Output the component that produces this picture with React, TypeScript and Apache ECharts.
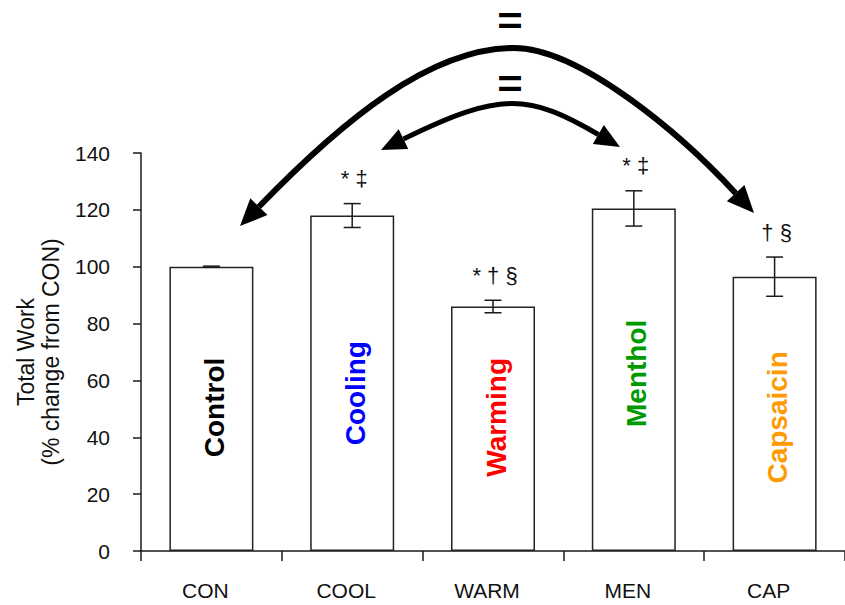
import React, { useEffect, useRef } from "react";
import * as echarts from "echarts";

// Conditions and their measured total work (% of control), mean ± SEM
const categories = ["CON", "COOL", "WARM", "MEN", "CAP"];
const conditionNames = ["Control", "Cooling", "Warming", "Menthol", "Capsaicin"];
const meanWork = [100, 118, 86, 120.5, 96.5];
const semWork = [0.2, 4.2, 2.2, 6.2, 6.9];
const significance = ["", "* \u2021", "* \u2020 \u00a7", "* \u2021", "\u2020 \u00a7"];
const yTicks = { min: 0, max: 140, interval: 20 };

// Styling / layout for the in-bar condition names
const nameColors = ["#000000", "#0000ff", "#ff0000", "#009a00", "#ff9a00"];
const nameCenterAt = [50.5, 55.5, 47, 62.5, 47]; // in axis units

const FONT = '"Liberation Sans", Arial, Helvetica, sans-serif';
const INK = "#1a1a1a";

type Pt = [number, number];

function arrowHead(tip: Pt, dir: Pt, len: number, halfW: number) {
  const n = Math.hypot(dir[0], dir[1]);
  const d: Pt = [dir[0] / n, dir[1] / n];
  const base: Pt = [tip[0] - d[0] * len, tip[1] - d[1] * len];
  const p: Pt = [-d[1], d[0]];
  return {
    base,
    shape: {
      type: "polygon",
      shape: {
        points: [
          tip,
          [base[0] + p[0] * halfW, base[1] + p[1] * halfW],
          [base[0] - p[0] * halfW, base[1] - p[1] * halfW],
        ],
      },
      style: { fill: "#000" },
    },
  };
}

function equalsSign(y: number) {
  return {
    type: "text",
    x: 510,
    y,
    scaleX: 1.15,
    style: {
      text: "=",
      font: `bold 38px ${FONT}`,
      fill: "#000",
      align: "center",
      verticalAlign: "middle",
    },
  };
}

function buildArrows() {
  const els: any[] = [];
  // outer arc: Control <-> Capsaicin
  const bl = arrowHead([240, 226], [-0.7, 0.714], 27, 12);
  const br = arrowHead([754, 213], [0.68, 0.733], 27, 12);
  els.push({
    type: "bezierCurve",
    shape: { x1: bl.base[0], y1: bl.base[1], cpx1: 342, cpy1: 121, cpx2: 430, cpy2: 48, x2: 514, y2: 48 },
    style: { stroke: "#000", lineWidth: 6, fill: null },
  });
  els.push({
    type: "bezierCurve",
    shape: { x1: 514, y1: 48, cpx1: 580, cpy1: 48, cpx2: 682, cpy2: 135, x2: br.base[0], y2: br.base[1] },
    style: { stroke: "#000", lineWidth: 6, fill: null },
  });
  els.push(bl.shape, br.shape);

  // inner arc: Cooling <-> Menthol
  const sl = arrowHead([381, 150], [-0.9, 0.436], 25, 11);
  const sr = arrowHead([620, 147], [0.866, 0.5], 25, 11);
  els.push({
    type: "bezierCurve",
    shape: { x1: sl.base[0], y1: sl.base[1], cpx1: 501, cpy1: 91, cpx2: 529, cpy2: 94, x2: sr.base[0], y2: sr.base[1] },
    style: { stroke: "#000", lineWidth: 5, fill: null },
  });
  els.push(sl.shape, sr.shape);

  els.push(equalsSign(21), equalsSign(84));
  return els;
}

export default function App() {
  const ref = useRef<HTMLDivElement>(null);

  useEffect(() => {
    if (!ref.current) return;
    const chart = echarts.init(ref.current, undefined, { renderer: "svg" });

    const option: any = {
      animation: false,
      backgroundColor: "#ffffff",
      grid: { left: 141, right: -4, top: 153, bottom: 54 },
      xAxis: {
        type: "category",
        data: categories,
        axisLine: { lineStyle: { color: INK, width: 1.5 } },
        axisTick: { show: true, length: 10, lineStyle: { color: INK, width: 1.5 } },
        axisLabel: { fontFamily: FONT, fontSize: 21, color: "#111", margin: 29, padding: [0, 12, 0, 0] },
      },
      yAxis: {
        type: "value",
        min: yTicks.min,
        max: yTicks.max,
        interval: yTicks.interval,
        name: "Total Work\n(% change from CON)",
        nameLocation: "middle",
        nameGap: 78,
        nameTextStyle: { fontFamily: FONT, fontSize: 23, lineHeight: 25, color: "#111" },
        axisLine: { show: true, lineStyle: { color: INK, width: 1.5 } },
        axisTick: { show: true, length: 8, lineStyle: { color: INK, width: 1.5 } },
        splitLine: { show: false },
        axisLabel: { fontFamily: FONT, fontSize: 21, color: "#111", margin: 31 },
      },
      series: [
        {
          type: "bar",
          data: meanWork,
          barWidth: 84,
          itemStyle: { color: "#ffffff", borderColor: "#222", borderWidth: 1.5 },
          z: 2,
        },
        {
          type: "custom",
          data: categories.map((_, i) => [i, meanWork[i], semWork[i]]),
          encode: { x: 0, y: 1 },
          z: 3,
          renderItem: (params: any, api: any) => {
            const i = params.dataIndex;
            const m = meanWork[i];
            const s = semWork[i];
            const x = api.coord([i, m])[0];
            const top = api.coord([i, m + s])[1];
            const bot = api.coord([i, m - s])[1];
            const nameY = api.coord([i, nameCenterAt[i]])[1];
            const half = 8.5;
            const ls = { stroke: INK, lineWidth: 1.5 };
            return {
              type: "group",
              children: [
                { type: "line", shape: { x1: x, y1: top, x2: x, y2: bot }, style: ls },
                { type: "line", shape: { x1: x - half, y1: top, x2: x + half, y2: top }, style: ls },
                { type: "line", shape: { x1: x - half, y1: bot, x2: x + half, y2: bot }, style: ls },
                {
                  type: "text",
                  x: x + 2,
                  y: top - 25,
                  style: {
                    text: significance[i],
                    font: `22px ${FONT}`,
                    fill: "#111",
                    align: "center",
                    verticalAlign: "middle",
                  },
                },
                {
                  type: "text",
                  x: x + 3,
                  y: nameY,
                  rotation: Math.PI / 2,
                  style: {
                    text: conditionNames[i],
                    font: `bold 28px ${FONT}`,
                    fill: nameColors[i],
                    align: "center",
                    verticalAlign: "middle",
                  },
                },
              ],
            };
          },
        },
      ],
      graphic: buildArrows(),
    };

    chart.setOption(option);
    return () => chart.dispose();
  }, []);

  return (
    <div
      ref={ref}
      style={{ position: "fixed", left: 0, top: 0, width: 845, height: 605, background: "#fff" }}
    />
  );
}
